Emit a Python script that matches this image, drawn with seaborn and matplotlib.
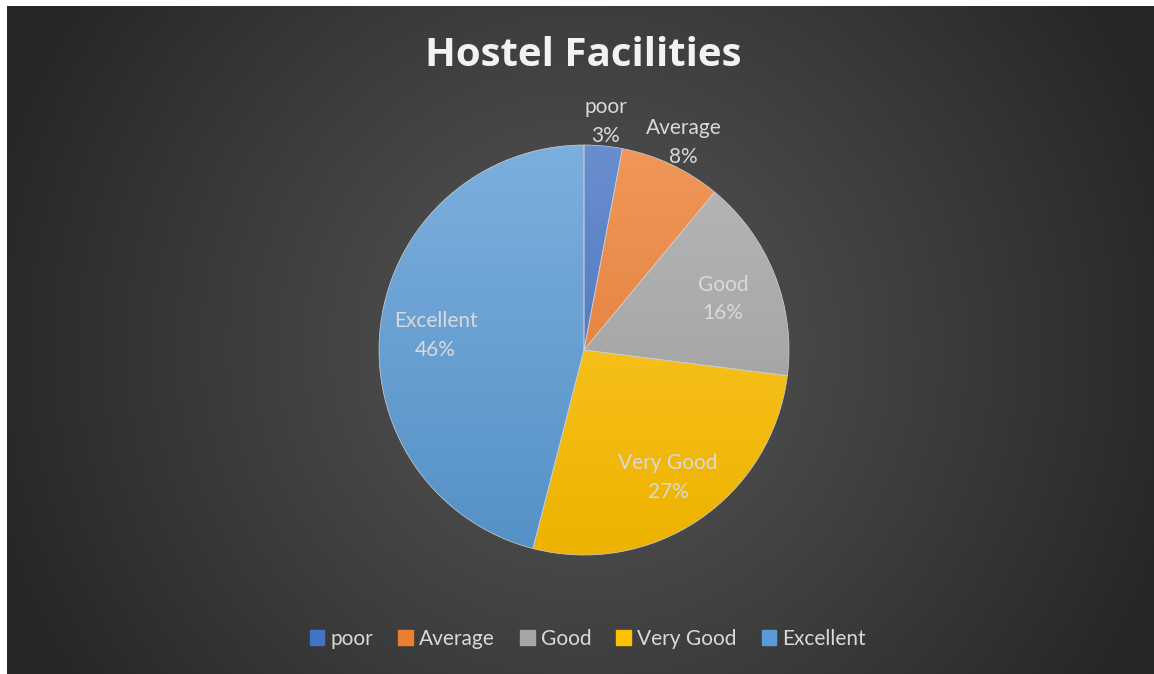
import numpy as np
import matplotlib
matplotlib.use("Agg")
import matplotlib.pyplot as plt
import matplotlib.colors as mcolors
import seaborn as sns

sns.set_theme(style="white")
plt.rcParams['font.family'] = ['Lato', 'DejaVu Sans']

# data
categories = ["poor", "Average", "Good", "Very Good", "Excellent"]
shares = [3, 8, 16, 27, 46]
colors = ["#4472C4", "#ED7D31", "#A5A5A5", "#FFC000", "#5B9BD5"]
title = "Hostel Facilities"

W, H = 1154, 674
fig = plt.figure(figsize=(W / 100, H / 100), dpi=100)
fig.patch.set_facecolor("white")

# dark radial background (chart area leaves a small white strip left/top)
bg = fig.add_axes([7 / W, 0, (W - 7) / W, (H - 6) / H])
bg.set_axis_off()
yy, xx = np.mgrid[0:668, 0:1147]
d = np.sqrt((xx - 577) ** 2 + (yy - 340) ** 2) / 620
d = np.clip(d, 0, 1)
val = 0.335 - (0.335 - 0.15) * d ** 1.1
bg.imshow(np.dstack([val, val, val]), aspect="auto", extent=[0, 1, 0, 1])
bg.set_xlim(0, 1)
bg.set_ylim(0, 1)

# pie axes: centre (584,350), radius 205 px
R = 205
cx, cy = 584, 350
ax = fig.add_axes([(cx - R) / W, (H - cy - R) / H, 2 * R / W, 2 * R / H])
ax.set_axis_off()
wedges, _ = ax.pie(shares, colors=colors, startangle=90, counterclock=False,
                   wedgeprops=dict(edgecolor="#d0d0d0", linewidth=0.5))

# vertical shading on each slice (lighter on top)
for w, c in zip(wedges, colors):
    base = np.array(mcolors.to_rgb(c))
    top = base + (1 - base) * 0.2
    bot = base * 0.93
    t = np.linspace(0, 1, 256)[:, None]
    grad = top[None, :] * (1 - t) + bot[None, :] * t
    img = ax.imshow(np.repeat(grad[:, None, :], 2, axis=1), extent=[-1, 1, -1, 1],
                    aspect="auto", zorder=w.get_zorder(), interpolation="bilinear")
    img.set_clip_path(w)
    w.set_facecolor("none")
    w.set_zorder(w.get_zorder() + 1)
ax.set_xlim(-1, 1)
ax.set_ylim(-1, 1)

# data labels
total = sum(shares)
start = 90.0
for name, v in zip(categories, shares):
    span = 360.0 * v / total
    mid = np.deg2rad(start - span / 2)
    start -= span
    r = 1.14 if v < 10 else 0.73
    ax.text(r * np.cos(mid), r * np.sin(mid) - 0.02, f"{name}\n{v}%", ha="center", va="center",
            color="#d9d9d9", fontsize=15, linespacing=1.55, clip_on=False)

fig.text(583 / W, 1 - 55 / H, title, ha="center", va="center", color="#f2f2f2",
         fontsize=29, fontweight="bold", family=["Open Sans", "DejaVu Sans"])

handles = [plt.Rectangle((0, 0), 1, 1, color=c) for c in colors]
fig.legend(handles, categories, loc="center", bbox_to_anchor=(588 / W, 1 - 639 / H),
           ncol=5, frameon=False, fontsize=15, labelcolor="#d9d9d9",
           handlelength=0.7, handleheight=0.7, handletextpad=0.3, columnspacing=1.2)

fig.savefig("out.png", dpi=100, facecolor=fig.get_facecolor())
